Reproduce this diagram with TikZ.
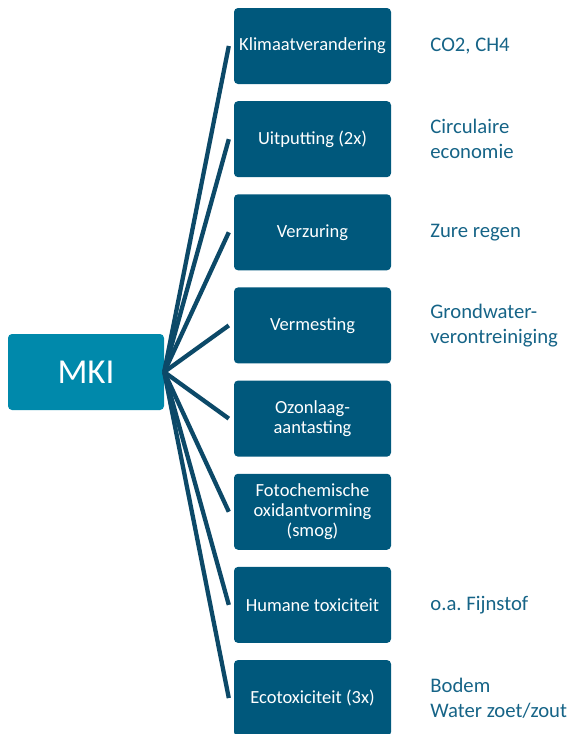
\documentclass[tikz,border=0pt]{standalone}
\usepackage{fontspec}
\setmainfont{Carlito}
\usepackage{tikz}
\usetikzlibrary{positioning}
\definecolor{mkiteal}{RGB}{0,137,171}
\definecolor{mkiblue}{RGB}{0,88,124}
\definecolor{mkiline}{RGB}{12,73,104}
\definecolor{mkitext}{RGB}{22,100,135}
\frenchspacing

\begin{document}
\begin{tikzpicture}[x=1pt,y=-1pt,
    catbox/.style={fill=mkiblue,rounded corners=4pt,minimum width=157pt,minimum height=76pt,
        inner sep=2pt,text=white,align=center,font=\fontsize{18.5}{20}\selectfont},
    spoke/.style={draw=mkiline,line width=4.3pt},
    effect/.style={text=mkitext,align=left,inner sep=0pt,font=\fontsize{20.7}{25}\selectfont}]
    \useasboundingbox (0,0) rectangle (571,734);

    % Central box
    \node[fill=mkiteal,rounded corners=4pt,minimum width=156pt,minimum height=76pt,
        text=white,font=\fontsize{35}{40}\selectfont] (mki) at (86,372) {MKI};

    % Impact categories with spokes
    \foreach \i/\cat in {1/Klimaatverandering, 2/Uitputting (2x), 3/Verzuring, 4/Vermesting,
        5/{Ozonlaag-\\aantasting}, 6/{Fotochemische\\oxidantvorming\\(smog)},
        7/Humane toxiciteit, 8/Ecotoxiciteit (3x)} {
        \node[catbox] (cat\i) at (312.5,{46+93.15*(\i-1)}) {\cat};
        \coordinate[left=5pt of cat\i] (tip\i);
        \draw[spoke] (mki.east) -- (tip\i);
    }

    % Effects
    \foreach \i/\eff in {1/{CO2, CH4}, 2/{Circulaire\\economie}, 3/Zure regen,
        4/{Grondwater-\\verontreiniging}, 7/o.a. Fijnstof, 8/{Bodem\\Water zoet/zout}} {
        \node[effect,right=39pt of cat\i] (eff\i) {\eff};
    }
\end{tikzpicture}
\end{document}
